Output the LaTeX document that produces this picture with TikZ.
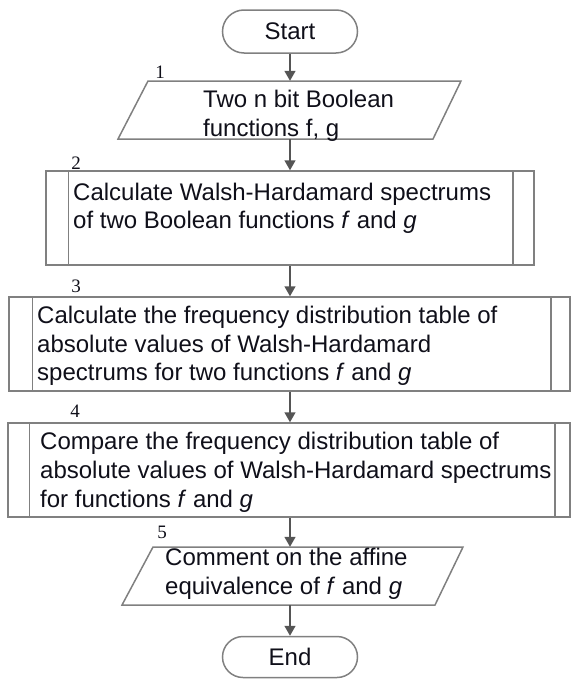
\documentclass[tikz,border=0pt]{standalone}
\usepackage{fontspec}
\setmainfont{Liberation Sans}
\newfontfamily\numserif{Liberation Serif}
\usetikzlibrary{arrows.meta}
\definecolor{boxgray}{RGB}{128,128,128}
\definecolor{arrgray}{RGB}{85,85,85}
\definecolor{txtcol}{RGB}{15,15,25}
\tikzset{
  shapebox/.style={draw=boxgray, line width=1.5pt, rectangle, inner sep=0pt},
  ghost/.style={inner sep=0pt, rectangle},
  term/.style={draw=boxgray, line width=1.5pt, rectangle, inner sep=0pt, text=txtcol, font=\fontsize{24}{28}\selectfont},
  sideline/.style={draw=boxgray, line width=1.5pt},
  para/.style={draw=boxgray, line width=1.5pt, line join=miter},
  arr/.style={draw=arrgray, line width=1.5pt, -{Triangle[length=10pt,width=11pt]}},
  txt/.style={anchor=base west, inner sep=0pt, text=txtcol, font=\fontsize{24}{28}\selectfont},
  num/.style={inner sep=0pt, text=txtcol, font=\numserif\fontsize{19}{22}\selectfont},
}
\begin{document}
\begin{tikzpicture}[x=1pt,y=-1pt]
\useasboundingbox (0,0) rectangle (571,680);

% terminals
\node[term, minimum width=135pt, minimum height=43pt, rounded corners=21.5pt] (start) at (290,31.5) {Start};
\node[term, minimum width=135pt, minimum height=41pt, rounded corners=20.5pt] (end) at (290,657) {End};

% parallelogram 1
\node[ghost, minimum width=300pt, minimum height=58pt] (p1) at (290,110) {};
\coordinate (p1tl) at (148,81);
\coordinate (p1tr) at (461,81);
\coordinate (p1br) at (433,139);
\coordinate (p1bl) at (118,139);
\draw[para] (p1tl) -- (p1tr) -- (p1br) -- (p1bl) -- cycle;

% box 2
\node[shapebox, minimum width=488pt, minimum height=94pt] (b2) at (290,218) {};
\draw[sideline] ([xshift=23pt]b2.north west) -- ([xshift=23pt]b2.south west);
\draw[sideline] ([xshift=-22pt]b2.north east) -- ([xshift=-22pt]b2.south east);

% box 3
\node[shapebox, minimum width=561pt, minimum height=94pt] (b3) at (289.5,344) {};
\draw[sideline] ([xshift=24pt]b3.north west) -- ([xshift=24pt]b3.south west);
\draw[sideline] ([xshift=-20pt]b3.north east) -- ([xshift=-20pt]b3.south east);

% box 4
\node[shapebox, minimum width=562pt, minimum height=94pt] (b4) at (289,470) {};
\draw[sideline] ([xshift=22pt]b4.north west) -- ([xshift=22pt]b4.south west);
\draw[sideline] ([xshift=-16pt]b4.north east) -- ([xshift=-16pt]b4.south east);

% parallelogram 5
\node[ghost, minimum width=300pt, minimum height=58pt] (p5) at (290,576) {};
\coordinate (p5tl) at (153,547);
\coordinate (p5tr) at (463,547);
\coordinate (p5br) at (435,605);
\coordinate (p5bl) at (122,605);
\draw[para] (p5tl) -- (p5tr) -- (p5br) -- (p5bl) -- cycle;

% texts
\node[txt] (t1a) at (203,107) {Two n bit Boolean};
\node[txt] (t1b) at (203,136) {functions f, g};
\node[txt] (t2a) at (73,200) {Calculate Walsh-Hardamard spectrums};
\node[txt] (t2b) at (73,228) {of two Boolean functions \textit{f} and \textit{g}};
\node[txt] (t3a) at (37,323) {Calculate the frequency distribution table of};
\node[txt] (t3b) at (37,352) {absolute values of Walsh-Hardamard};
\node[txt] (t3c) at (37,380) {spectrums for two functions \textit{f} and \textit{g}};
\node[txt] (t4a) at (40,449) {Compare the frequency distribution table of};
\node[txt] (t4b) at (40,478) {absolute values of Walsh-Hardamard spectrums};
\node[txt] (t4c) at (40,507) {for functions \textit{f} and \textit{g}};
\node[txt] (t5a) at (165,565) {Comment on the affine};
\node[txt] (t5b) at (165,594) {equivalence of \textit{f} and \textit{g}};

% step numbers
\node[num] (n1) at (160,72) {1};
\node[num] (n2) at (76,163) {2};
\node[num] (n3) at (76,286) {3};
\node[num] (n4) at (75,411) {4};
\node[num] (n5) at (162,532) {5};

% connectors
\draw[arr] (start.south) -- (start.south |- p1.north);
\draw[arr] (p1.south) -- (p1.south |- b2.north);
\draw[arr] (b2.south) -- (b2.south |- b3.north);
\draw[arr] (b2.south |- b3.south) -- (b2.south |- b4.north);
\draw[arr] (b2.south |- b4.south) -- (b2.south |- p5.north);
\draw[arr] (p5.south) -- (p5.south |- end.north);
\end{tikzpicture}
\end{document}
